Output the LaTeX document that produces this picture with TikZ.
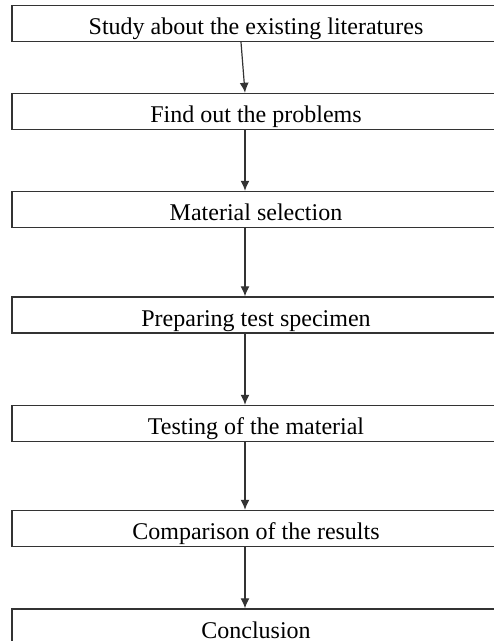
\documentclass[tikz,border=0pt]{standalone}
\usepackage{fontspec}
\setmainfont{Liberation Serif}
\usetikzlibrary{arrows.meta}
\tikzset{
  stepbox/.style={draw=black!80, line width=0.7pt, minimum width=244pt, minimum height=18pt, inner sep=0pt, text height=11pt, text depth=0pt, font=\fontsize{12}{14}\selectfont},
  flow/.style={draw=black!80, line width=0.6pt, -{Latex[length=5pt,width=4.5pt]}}
}
\begin{document}
\begin{tikzpicture}[x=0.5pt,y=-0.5pt]
		\useasboundingbox (0,0) rectangle (493,641);
		\node[stepbox] (study) at (256,23.5) {Study about the existing literatures};
		\node[stepbox] (problems) at (256,111.5) {Find out the problems};
		\node[stepbox] (selection) at (256,209.5) {Material selection};
		\node[stepbox] (specimen) at (256,315) {Preparing test specimen};
		\node[stepbox] (testing) at (256,423.5) {Testing of the material};
		\node[stepbox] (comparison) at (256,528.5) {Comparison of the results};
		\node[stepbox] (conclusion) at (256,627) {Conclusion};
		\draw[flow] ([xshift=-7.5pt]study.south)--([xshift=-5.5pt]problems.north);
		\draw[flow] ([xshift=-5.5pt]problems.south)--([xshift=-5.5pt]selection.north);
		\draw[flow] ([xshift=-5.5pt]selection.south)--([xshift=-5.5pt]specimen.north);
		\draw[flow] ([xshift=-5.5pt]specimen.south)--([xshift=-5.5pt]testing.north);
		\draw[flow] ([xshift=-5.5pt]testing.south)--([xshift=-5.5pt]comparison.north);
		\draw[flow] ([xshift=-5.5pt]comparison.south)--([xshift=-5.5pt]conclusion.north);
		\end{tikzpicture}
\end{document}
